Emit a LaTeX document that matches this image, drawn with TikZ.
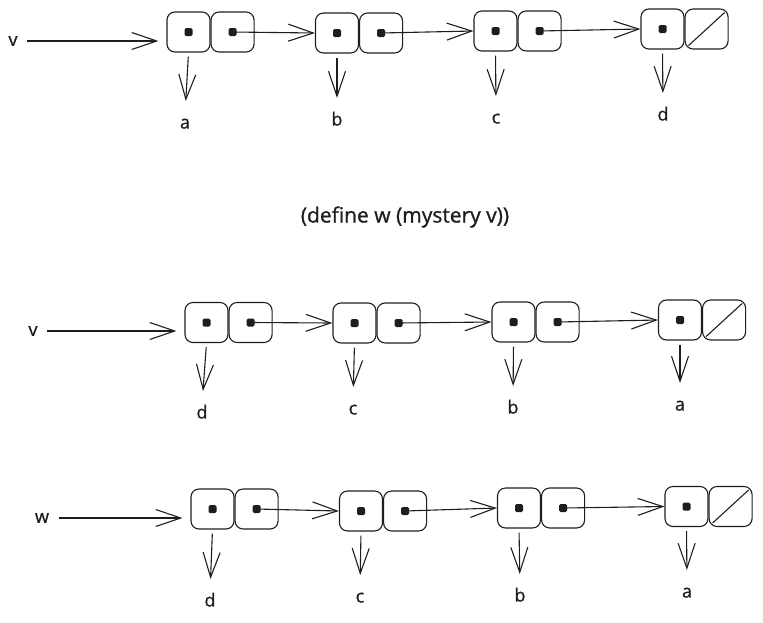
\documentclass[tikz,border=0pt]{standalone}
\usepackage{fontspec}
\setmainfont{Open Sans}
\newfontfamily\sketchfont[FakeBold=1]{Open Sans}
\usetikzlibrary{arrows.meta,positioning}
\definecolor{ink}{HTML}{1E1E1E}

\begin{document}
\begin{tikzpicture}[x=1pt, y=-1pt, line width=1.1pt, color=ink,
		>={Straight Barb[length=25pt,width=17pt]},
		cell/.style={draw, rectangle, rounded corners=8pt, minimum width=43pt,
			minimum height=40pt, inner sep=0pt},
		blob/.style={fill, rectangle, rounded corners=1.5pt, minimum size=8pt, inner sep=0pt},
		lab/.style={inner sep=0pt, font=\sketchfont\fontsize{18}{18}\selectfont,
			text height=13pt, text depth=0pt},
		var/.style={inner sep=0pt, font=\sketchfont\fontsize{18}{18}\selectfont},
		down/.style={->, shorten <=4pt, shorten >=14pt},
		entry/.style={->, shorten <=9pt, shorten >=8pt}]
			\useasboundingbox (0,0) rectangle (763,622);

			% First list: v points at a, b, c, d.
			\node[cell] (tcar1) at (188.5,32) {};
			\node[cell, right=0pt of tcar1] (tcdr1) {};
			\node[cell] (tcar2) at (337,33) {};
			\node[cell, right=0pt of tcar2] (tcdr2) {};
			\node[cell] (tcar3) at (495.5,31) {};
			\node[cell, right=0pt of tcar3] (tcdr3) {};
			\node[cell] (tcar4) at (662.5,29) {};
			\node[cell, right=0pt of tcar4] (tcdr4) {};
			\foreach \i in {1,...,4} {
				\node[blob] (tdot\i) at (tcar\i.center) {};
			}
			\foreach \i in {1,...,3} {
				\node[blob] (tnxt\i) at (tcdr\i.center) {};
			}
			\draw ([shift={(4,-4)}]tcdr4.south west) -- ([shift={(-4,4)}]tcdr4.north east);

			\node[var] (tv) at (13,41) {v};
			\draw[entry] (tv.east) -- (tv.east -| tcar1.west);
			\draw[->] (tnxt1.center) -- (tcar2.west);
			\draw[->] (tnxt2.center) -- (tcar3.west);
			\draw[->] (tnxt3.center) -- (tcar4.west);

			\node[lab] (tlab1) at (185,122) {a};
			\node[lab] (tlab2) at (337,119) {b};
			\node[lab] (tlab3) at (496,117) {c};
			\node[lab] (tlab4) at (663,114) {d};
			\foreach \i in {1,...,4} {
				\draw[down] (tcar\i.south) -- (tlab\i.north);
			}

			% The call in between.
			\node[var, font=\sketchfont\fontsize{21}{21}\selectfont] (call) at (405,217)
				{(define w (mystery v))};

			% Second list: v after the call, now d, c, b, a.
			\node[cell] (mcar1) at (206.5,322.5) {};
			\node[cell, right=0pt of mcar1] (mcdr1) {};
			\node[cell] (mcar2) at (354.5,323) {};
			\node[cell, right=0pt of mcar2] (mcdr2) {};
			\node[cell] (mcar3) at (513.5,322) {};
			\node[cell, right=0pt of mcar3] (mcdr3) {};
			\node[cell] (mcar4) at (680,320) {};
			\node[cell, right=0pt of mcar4] (mcdr4) {};
			\foreach \i in {1,...,4} {
				\node[blob] (mdot\i) at (mcar\i.center) {};
			}
			\foreach \i in {1,...,3} {
				\node[blob] (mnxt\i) at (mcdr\i.center) {};
			}
			\draw ([shift={(4,-4)}]mcdr4.south west) -- ([shift={(-4,4)}]mcdr4.north east);

			\node[var] (mv) at (33,331) {v};
			\draw[entry] (mv.east) -- (mv.east -| mcar1.west);
			\draw[->] (mnxt1.center) -- (mcar2.west);
			\draw[->] (mnxt2.center) -- (mcar3.west);
			\draw[->] (mnxt3.center) -- (mcar4.west);

			\node[lab] (mlab1) at (202,412) {d};
			\node[lab] (mlab2) at (353,408) {c};
			\node[lab] (mlab3) at (513,407) {b};
			\node[lab] (mlab4) at (680,404) {a};
			\foreach \i in {1,...,4} {
				\draw[down] (mcar\i.south) -- (mlab\i.north);
			}

			% Third list: w, the same cells as the second one.
			\node[cell] (bcar1) at (212.5,509) {};
			\node[cell, right=0pt of bcar1] (bcdr1) {};
			\node[cell] (bcar2) at (361,511) {};
			\node[cell, right=0pt of bcar2] (bcdr2) {};
			\node[cell] (bcar3) at (519,508) {};
			\node[cell, right=0pt of bcar3] (bcdr3) {};
			\node[cell] (bcar4) at (686.5,506.5) {};
			\node[cell, right=0pt of bcar4] (bcdr4) {};
			\foreach \i in {1,...,4} {
				\node[blob] (bdot\i) at (bcar\i.center) {};
			}
			\foreach \i in {1,...,3} {
				\node[blob] (bnxt\i) at (bcdr\i.center) {};
			}
			\draw ([shift={(4,-4)}]bcdr4.south west) -- ([shift={(-4,4)}]bcdr4.north east);

			\node[var] (bw) at (42,518) {w};
			\draw[entry] (bw.east) -- (bw.east -| bcar1.west);
			\draw[->] (bnxt1.center) -- (bcar2.west);
			\draw[->] (bnxt2.center) -- (bcar3.west);
			\draw[->] (bnxt3.center) -- (bcar4.west);

			\node[lab] (blab1) at (210,600) {d};
			\node[lab] (blab2) at (360,596) {c};
			\node[lab] (blab3) at (520,595) {b};
			\node[lab] (blab4) at (687,591) {a};
			\foreach \i in {1,...,4} {
				\draw[down] (bcar\i.south) -- (blab\i.north);
			}
		\end{tikzpicture}
\end{document}
